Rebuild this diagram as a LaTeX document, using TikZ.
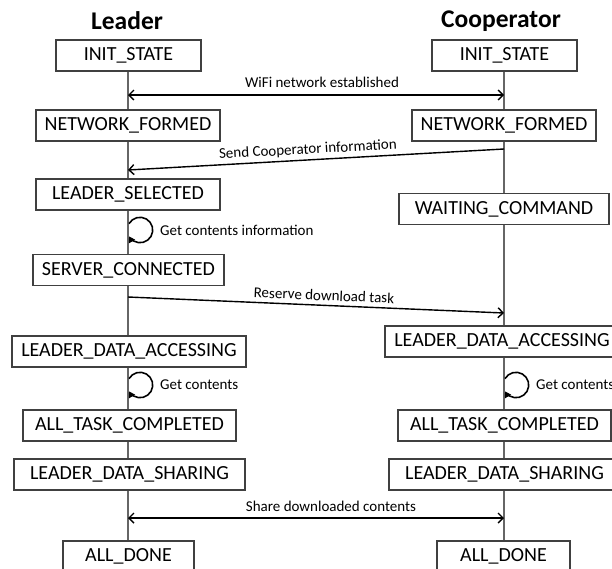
\documentclass[tikz,border=0pt]{standalone}
\usepackage{fontspec}
\setmainfont{Carlito}
\usetikzlibrary{arrows.meta}
\tikzset{
  statebox/.style={draw=black!75, line width=1.1pt, minimum height=31pt, inner sep=0pt,
    font=\fontsize{20}{22}\selectfont, fill=white},
  title/.style={font=\fontsize{25.5}{28}\selectfont\bfseries},
  msglabel/.style={font=\fontsize{15}{18}\selectfont, inner sep=1pt},
  lifeline/.style={draw=black!60, line width=1.3pt},
  msg/.style={draw=black, line width=1.4pt, arrows={-Straight Barb[length=5pt,width=10pt]}},
  msgboth/.style={draw=black, line width=1.4pt, arrows={Straight Barb[length=5pt,width=10pt]-Straight Barb[length=5pt,width=10pt]}},
  selfloop/.style={draw=black, line width=1.6pt, arrows={-Triangle[length=6pt,width=7pt]}}
}
\begin{document}
\begin{tikzpicture}[x=1pt,y=-1pt]
\useasboundingbox (0,0) rectangle (612,568);
\clip (0,0) rectangle (612,568);
% titles
\node[title] (tL) at (127,21) {Leader};
\node[title] (tC) at (501,21) {Cooperator};
% leader states
\node[statebox, minimum width=145pt] (L1) at (128.5,55.5) {INIT\_STATE};
\node[statebox, minimum width=184pt] (L2) at (128,125.5) {NETWORK\_FORMED};
\node[statebox, minimum width=184pt] (L3) at (128,194.5) {LEADER\_SELECTED};
\node[statebox, minimum width=191pt] (L4) at (128.5,270) {SERVER\_CONNECTED};
\node[statebox, minimum width=234pt] (L5) at (129,351.5) {LEADER\_DATA\_ACCESSING};
\node[statebox, minimum width=213pt] (L6) at (129.5,425.5) {ALL\_TASK\_COMPLETED};
\node[statebox, minimum width=231pt] (L7) at (129.5,474.5) {LEADER\_DATA\_SHARING};
\node[statebox, minimum width=131pt] (L8) at (128.5,556.5) {ALL\_DONE};
% cooperator states
\node[statebox, minimum width=145pt] (C1) at (504.5,55.5) {INIT\_STATE};
\node[statebox, minimum width=184pt] (C2) at (504,125.5) {NETWORK\_FORMED};
\node[statebox, minimum width=210pt] (C3) at (504,209) {WAITING\_COMMAND};
\node[statebox, minimum width=234pt] (C4) at (502,341.5) {LEADER\_DATA\_ACCESSING};
\node[statebox, minimum width=213pt] (C5) at (504.5,425.5) {ALL\_TASK\_COMPLETED};
\node[statebox, minimum width=231pt] (C6) at (504.5,474.5) {LEADER\_DATA\_SHARING};
\node[statebox, minimum width=133pt] (C7) at (503.5,556.5) {ALL\_DONE};
% lifelines
\foreach \a/\b in {L1/L2,L2/L3,L3/L4,L4/L5,L5/L6,L6/L7,L7/L8}{
  \draw[lifeline] (\a.south -| 128,0) -- (\b.north -| 128,0);
}
\foreach \a/\b in {C1/C2,C2/C3,C3/C4,C4/C5,C5/C6,C6/C7}{
  \draw[lifeline] (\a.south -| 504,0) -- (\b.north -| 504,0);
}
% message anchor points
\coordinate (m1l) at (128,95);   \coordinate (m1r) at (504,95);
\coordinate (m2r) at (504,149);  \coordinate (m2l) at (128,170);
\coordinate (m3l) at (128,297);  \coordinate (m3r) at (504,313);
\coordinate (m4l) at (128,518);  \coordinate (m4r) at (504,518);
% messages
\draw[msgboth] (m1l) -- (m1r);
\node[msglabel] (lab1) at (322,82) {WiFi network established};
\draw[msg] (m2r) -- (m2l) node[msglabel, pos=0.52, sloped, above, inner sep=3pt] (lab2) {Send Cooperator information};
\draw[msg] (m3l) -- (m3r) node[msglabel, pos=0.52, sloped, above, inner sep=4pt] (lab3) {Reserve download task};
\draw[msgboth] (m4l) -- (m4r);
\node[msglabel] (lab4) at (331,506) {Share downloaded contents};
% self loops
\coordinate (s1) at (140,230);
\coordinate (s2) at (140,385);
\coordinate (s3) at (516,385);
\foreach \c in {s1,s2,s3}{
  \draw[selfloop] ([shift={(-150:12.7)}]\c) arc[start angle=-150, end angle=150, radius=12.7];
}
\node[msglabel, anchor=west] (g1) at (159,230) {Get contents information};
\node[msglabel, anchor=west] (g2) at (159,385) {Get contents};
\node[msglabel, anchor=west] (g3) at (535,385) {Get contents};
\end{tikzpicture}
\end{document}
